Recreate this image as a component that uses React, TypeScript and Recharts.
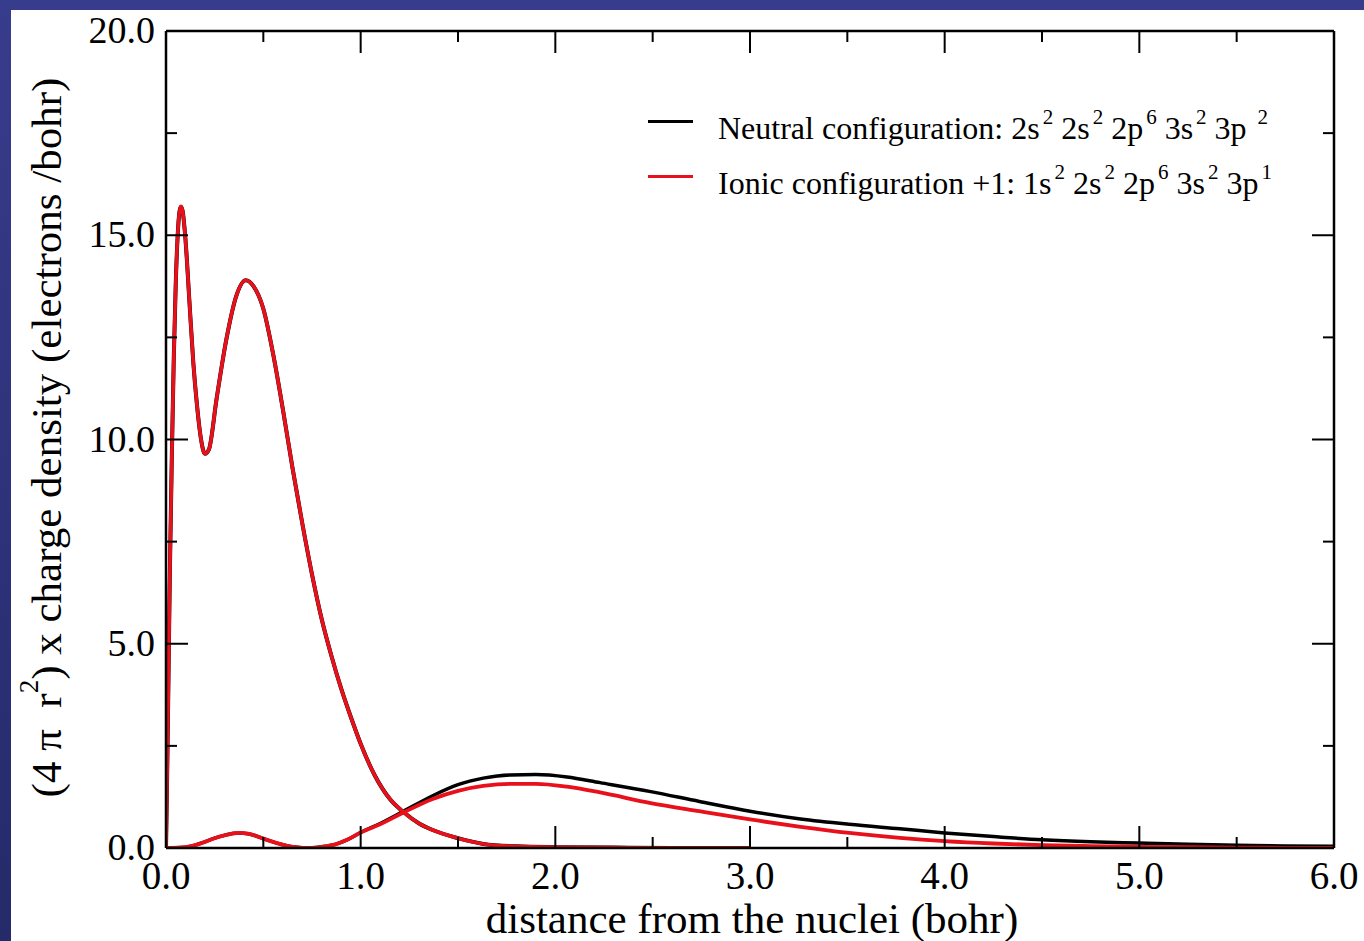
import React from 'react';
import { LineChart, Line, XAxis, YAxis, Label } from 'recharts';

// ---------- data ----------
const xTicks = [0, 0.5, 1, 1.5, 2, 2.5, 3, 3.5, 4, 4.5, 5, 5.5, 6];
const yTicks = [0, 2.5, 5, 7.5, 10, 12.5, 15, 17.5, 20];

// core (1s, 2s, 2p) density, identical for both configurations
const coreR = [0, 0.005, 0.01, 0.02, 0.03, 0.04, 0.05, 0.06, 0.07, 0.077, 0.085, 0.1, 0.12, 0.14, 0.16, 0.18, 0.2, 0.22, 0.26, 0.31, 0.36, 0.41, 0.45, 0.5, 0.55, 0.6, 0.65, 0.7, 0.75, 0.8, 0.85, 0.9, 0.95, 1.0, 1.07, 1.15, 1.22, 1.3, 1.37, 1.5, 1.63, 1.8, 2.0, 2.3, 2.6, 3.0];
const coreDensity = [0, 1.5, 3.2, 6.8, 9.6, 12.0, 13.8, 15.0, 15.6, 15.7, 15.6, 14.9, 13.4, 11.9, 10.8, 10.0, 9.65, 9.75, 11.0, 12.45, 13.5, 13.9, 13.75, 13.2, 12.1, 10.75, 9.3, 7.95, 6.7, 5.6, 4.7, 3.9, 3.2, 2.55, 1.8, 1.2, 0.88, 0.6, 0.44, 0.24, 0.1, 0.04, 0.02, 0.01, 0, 0];

// valence (3s, 3p) density
const valenceR = [0, 0.1, 0.15, 0.2, 0.25, 0.3, 0.35, 0.38, 0.42, 0.46, 0.5, 0.55, 0.6, 0.65, 0.7, 0.72, 0.75, 0.8, 0.87, 0.93, 1.0, 1.1, 1.22, 1.37, 1.5, 1.63, 1.77, 1.9, 2.06, 2.23, 2.49, 2.74, 3.0, 3.26, 3.51, 3.77, 4.0, 4.25, 4.5, 4.75, 5.0, 5.25, 5.5, 5.75, 6.0];
const neutralValence = [0, 0.02, 0.07, 0.15, 0.24, 0.31, 0.36, 0.37, 0.35, 0.3, 0.23, 0.15, 0.08, 0.03, 0.005, 0, 0.005, 0.03, 0.09, 0.2, 0.38, 0.6, 0.9, 1.28, 1.55, 1.71, 1.79, 1.8, 1.74, 1.6, 1.38, 1.14, 0.9, 0.71, 0.58, 0.47, 0.37, 0.28, 0.2, 0.15, 0.12, 0.09, 0.07, 0.05, 0.04];
const ionicValence = [0, 0.02, 0.07, 0.15, 0.24, 0.31, 0.36, 0.37, 0.35, 0.3, 0.23, 0.15, 0.08, 0.03, 0.005, 0, 0.005, 0.03, 0.09, 0.2, 0.38, 0.58, 0.87, 1.2, 1.4, 1.52, 1.57, 1.57, 1.5, 1.36, 1.1, 0.9, 0.7, 0.52, 0.37, 0.25, 0.17, 0.11, 0.07, 0.045, 0.03, 0.02, 0.01, 0.005, 0];

const legendNeutral: [string, string][] = [
  ['Neutral configuration: 2s', '2'],
  [' 2s', '2'],
  [' 2p', '6'],
  [' 3s', '2'],
  [' 3p ', '2'],
];
const legendIonic: [string, string][] = [
  ['Ionic configuration +1: 1s', '2'],
  [' 2s', '2'],
  [' 2p', '6'],
  [' 3s', '2'],
  [' 3p', '1'],
];

const xTitle = 'distance from the nuclei (bohr)';

const coreData = coreR.map((x, i) => ({ x, y: coreDensity[i] }));
const neutralData = valenceR.map((x, i) => ({ x, y: neutralValence[i] }));
const ionicData = valenceR.map((x, i) => ({ x, y: ionicValence[i] }));

// ---------- style ----------
const FONT = '"Liberation Serif", "Times New Roman", serif';
const RED = '#e8101a';
const MAJOR = 22;
const MINOR = 11;

const isInt = (v: number, step: number) => Math.abs(v / step - Math.round(v / step)) < 1e-9;

const BottomTick = (props: any) => {
  const { x, y, payload } = props;
  const v = payload.value as number;
  const major = isInt(v, 1);
  return (
    <g>
      <line x1={x} x2={x} y1={y} y2={y - (major ? MAJOR : MINOR)} stroke="#000" strokeWidth={2} />
      {major && (
        <text x={x} y={y + 41} textAnchor="middle" fontSize={39} fontFamily={FONT} fill="#000">
          {v.toFixed(1)}
        </text>
      )}
    </g>
  );
};

const TopTick = (props: any) => {
  const { x, y, payload } = props;
  const v = payload.value as number;
  const major = isInt(v, 1);
  return <line x1={x} x2={x} y1={y} y2={y + (major ? MAJOR : MINOR)} stroke="#000" strokeWidth={2} />;
};

const LeftTick = (props: any) => {
  const { x, y, payload } = props;
  const v = payload.value as number;
  const major = isInt(v, 5);
  return (
    <g>
      <line x1={x} x2={x + (major ? MAJOR : MINOR)} y1={y} y2={y} stroke="#000" strokeWidth={2} />
      {major && (
        <text x={x - 11} y={y + 12} textAnchor="end" fontSize={38} fontFamily={FONT} fill="#000">
          {v.toFixed(1)}
        </text>
      )}
    </g>
  );
};

const RightTick = (props: any) => {
  const { x, y, payload } = props;
  const v = payload.value as number;
  const major = isInt(v, 5);
  return <line x1={x} x2={x - (major ? MAJOR : MINOR)} y1={y} y2={y} stroke="#000" strokeWidth={2} />;
};

const YTitle = (props: any) => {
  const vb = props.viewBox || { x: 0, y: 0, width: 0, height: 0 };
  const cx = 35;
  const cy = vb.y + vb.height / 2 - 2;
  return (
    <text
      transform={`rotate(-90 ${cx} ${cy})`}
      x={cx}
      y={cy}
      textAnchor="middle"
      dominantBaseline="central"
      fontSize={43}
      fontFamily={FONT}
      fill="#000"
      style={{ whiteSpace: 'pre' }}
    >
      {'(4 \u03c0  r'}
      <tspan dy={-17} fontSize={27}>2</tspan>
      <tspan dy={17}>{') x charge density (electrons /bohr)'}</tspan>
    </text>
  );
};

const XTitle = (props: any) => {
  const vb = props.viewBox || { x: 0, y: 0, width: 0, height: 0 };
  const cx = vb.x + vb.width / 2 + 2;
  return (
    <text x={cx} y={vb.y + 85} textAnchor="middle" fontSize={43} fontFamily={FONT} fill="#000">
      {xTitle}
    </text>
  );
};

const LegendRow = ({ color, parts }: { color: string; parts: [string, string][] }) => (
  <div style={{ display: 'flex', alignItems: 'center', height: 55 }}>
    <div style={{ width: 45, height: 3, background: color, marginRight: 25, flex: 'none' }} />
    <div style={{ fontFamily: FONT, fontSize: 32, lineHeight: 1, whiteSpace: 'pre', color: '#000', position: 'relative', top: 6 }}>
      {parts.map(([t, s], i) => (
        <span key={i}>
          {t}
          <span style={{ fontSize: 21, position: 'relative', top: -15, marginLeft: 3 }}>{s}</span>
        </span>
      ))}
    </div>
  </div>
);

export default function App() {
  return (
    <div
      style={{
        position: 'fixed',
        left: 0,
        top: 0,
        width: 1364,
        height: 941,
        background: 'linear-gradient(to bottom, #383c8c, #252a6a)',
        overflow: 'hidden',
      }}
    >
      <div style={{ position: 'absolute', left: 11, top: 10, width: 1353, height: 931, background: '#fff' }}>
        <LineChart
          width={1353}
          height={931}
          margin={{ top: 20, right: 29, left: 75, bottom: 43 }}
        >
          <XAxis
            xAxisId="b"
            type="number"
            dataKey="x"
            domain={[0, 6]}
            ticks={xTicks}
            interval={0}
            tickSize={0}
            tickMargin={0}
            tickLine={false}
            tick={<BottomTick />}
            axisLine={{ stroke: '#000', strokeWidth: 2.5 }}
            height={50}
            allowDataOverflow
          >
            <Label content={<XTitle />} />
          </XAxis>
          <XAxis
            xAxisId="t"
            orientation="top"
            type="number"
            dataKey="x"
            domain={[0, 6]}
            ticks={xTicks}
            interval={0}
            tickSize={0}
            tickMargin={0}
            tickLine={false}
            tick={<TopTick />}
            axisLine={{ stroke: '#000', strokeWidth: 2.5 }}
            height={1}
            allowDataOverflow
          />
          <YAxis
            yAxisId="l"
            type="number"
            domain={[0, 20]}
            ticks={yTicks}
            interval={0}
            tickSize={0}
            tickMargin={0}
            tickLine={false}
            tick={<LeftTick />}
            axisLine={{ stroke: '#000', strokeWidth: 2.5 }}
            width={80}
            allowDataOverflow
          >
            <Label content={<YTitle />} />
          </YAxis>
          <YAxis
            yAxisId="r"
            orientation="right"
            type="number"
            domain={[0, 20]}
            ticks={yTicks}
            interval={0}
            tickSize={0}
            tickMargin={0}
            tickLine={false}
            tick={<RightTick />}
            axisLine={{ stroke: '#000', strokeWidth: 2.5 }}
            width={1}
            allowDataOverflow
          />
          {/* invisible series bound to the mirrored axes so they render */}
          <Line xAxisId="t" yAxisId="r" data={coreData} dataKey="y" stroke="none" strokeWidth={0} dot={false} activeDot={false} legendType="none" isAnimationActive={false} />
          <Line xAxisId="b" yAxisId="l" data={coreData} dataKey="y" type="monotone" stroke="#000" strokeWidth={4} dot={false} isAnimationActive={false} />
          <Line xAxisId="b" yAxisId="l" data={neutralData} dataKey="y" type="monotone" stroke="#000" strokeWidth={3.5} dot={false} isAnimationActive={false} />
          <Line xAxisId="b" yAxisId="l" data={ionicData} dataKey="y" type="monotone" stroke={RED} strokeWidth={3.8} dot={false} isAnimationActive={false} />
          <Line xAxisId="b" yAxisId="l" data={coreData} dataKey="y" type="monotone" stroke={RED} strokeWidth={3.6} dot={false} isAnimationActive={false} />
        </LineChart>
        <div style={{ position: 'absolute', left: 637, top: 84 }}>
          <LegendRow color="#000" parts={legendNeutral} />
          <LegendRow color={RED} parts={legendIonic} />
        </div>
      </div>
    </div>
  );
}
